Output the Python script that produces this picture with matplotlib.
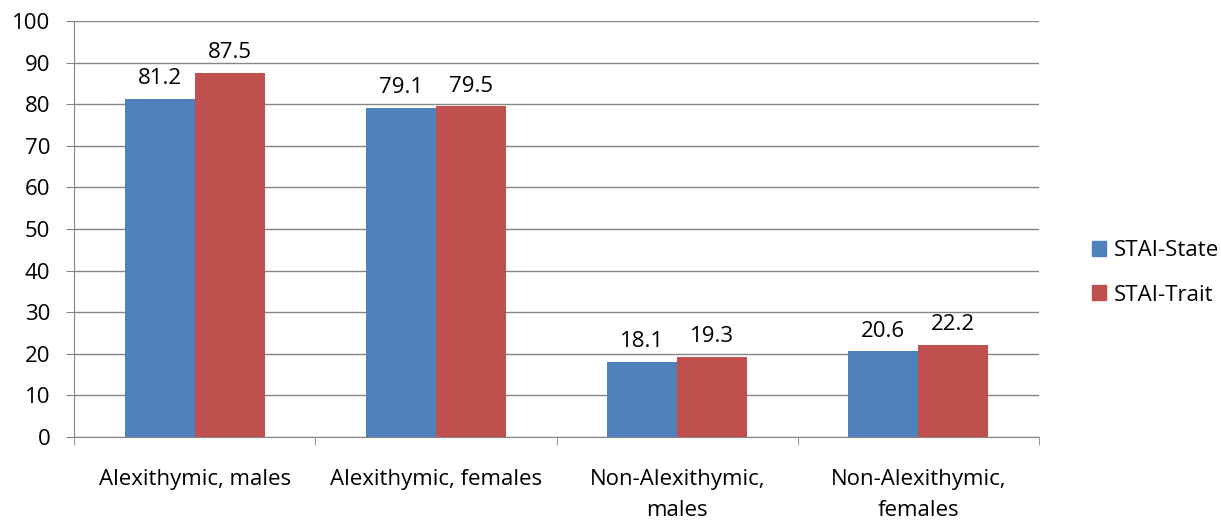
import numpy as np
import matplotlib.pyplot as plt
from matplotlib.patches import Patch

categories = ['Alexithymic, males', 'Alexithymic, females',
              'Non-Alexithymic,\nmales', 'Non-Alexithymic,\nfemales']
state = [81.2, 79.1, 18.1, 20.6]
trait = [87.5, 79.5, 19.3, 22.2]
series_names = ['STAI-State', 'STAI-Trait']
colors = ['#4F81BD', '#C0504D']

plt.rcParams['font.family'] = ['Open Sans', 'DejaVu Sans']
fs = 16

fig = plt.figure(figsize=(12.21, 5.24), dpi=100)
ax = fig.add_axes([74/1221, 87/524, (1039-74)/1221, (437-21)/524])

x = np.arange(len(categories))
w = 0.29
for i, (vals, name) in enumerate(zip([state, trait], series_names)):
    bars = ax.bar(x + (i - 0.5) * w, vals, width=w, color=colors[i], label=name, zorder=3)
    for b, v in zip(bars, vals):
        ax.annotate(f'{v:.1f}', (b.get_x() + b.get_width() / 2, v), xytext=(0, 7),
                    textcoords='offset points', ha='center', va='bottom', fontsize=fs)

ax.set_xlim(-0.5, len(categories) - 0.5)
ax.set_ylim(0, 100)
ax.set_yticks(np.arange(0, 101, 10))
ax.yaxis.grid(True, color='#868686', linewidth=1, zorder=0)
for s in ['top', 'right']:
    ax.spines[s].set_visible(False)
for s in ['left', 'bottom']:
    ax.spines[s].set_color('#868686')

ax.set_xticks(x)
ax.set_xticklabels(categories, linespacing=1.65)
ax.tick_params(axis='x', length=0, pad=23, labelsize=fs)
ax.set_xticks(np.arange(-0.5, len(categories)), minor=True)
ax.tick_params(axis='x', which='minor', length=6, color='#868686', direction='out')
ax.tick_params(axis='y', length=6, color='#868686', labelsize=fs, pad=11)

handles = [Patch(color=c, label=n) for c, n in zip(colors, series_names)]
fig.legend(handles=handles, loc='center left', bbox_to_anchor=(1072/1221, 1 - 273/524),
           frameon=False, fontsize=fs, handlelength=0.65, handleheight=0.65,
           handletextpad=0.35, labelspacing=1.05)

fig.savefig('out.png', dpi=100)
